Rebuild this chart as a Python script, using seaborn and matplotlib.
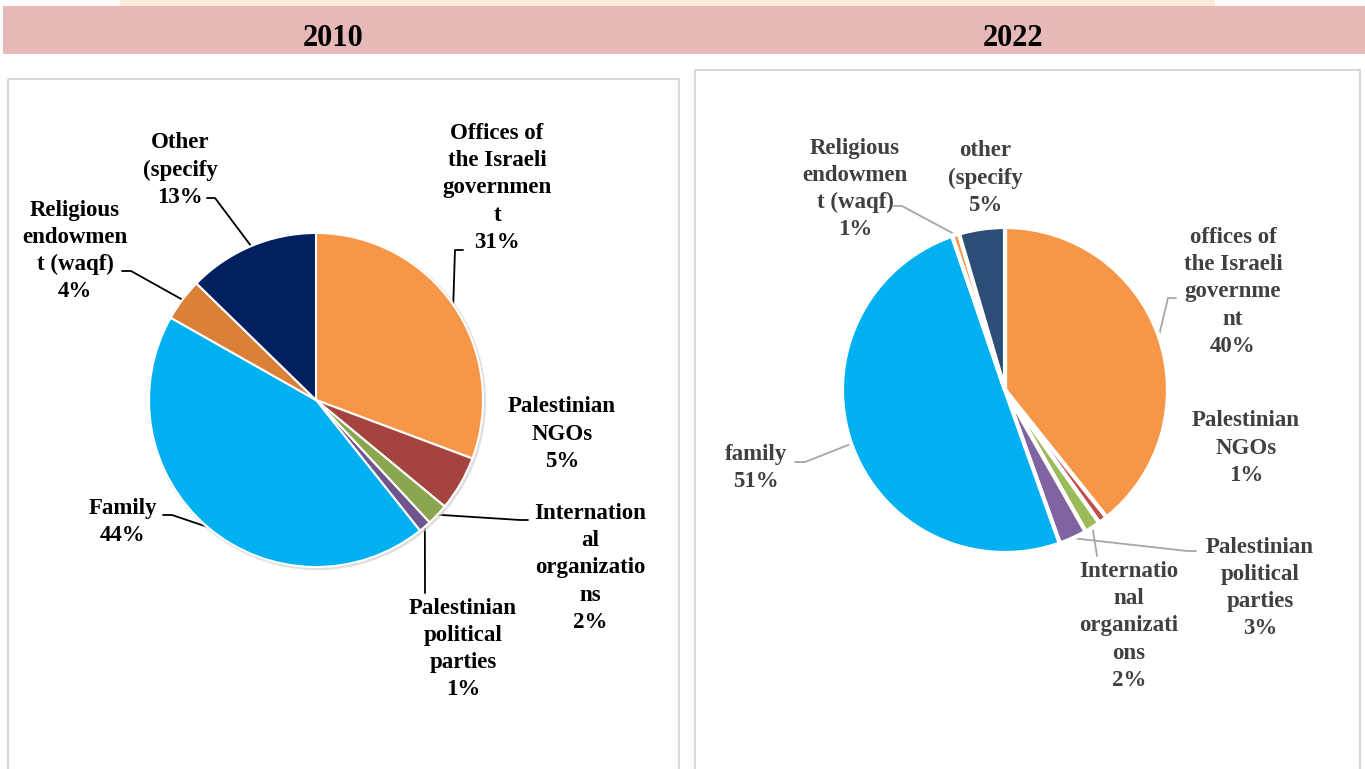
import math

import matplotlib.pyplot as plt
import matplotlib.patches as mpatches
import seaborn as sns

# =====================================
# Data
# =====================================

years = ["2010", "2022"]

labels_2010 = [
    "Offices of\nthe Israeli\ngovernmen\nt",
    "Palestinian\nNGOs",
    "Internation\nal\norganizatio\nns",
    "Palestinian\npolitical\nparties",
    "Family",
    "Religious\nendowmen\nt (waqf)",
    "Other\n(specify",
]
shares_2010 = [30.7, 5.3, 2.1, 1.2, 43.9, 4.1, 12.7]

labels_2022 = [
    "offices of\nthe Israeli\ngovernme\nnt",
    "Palestinian\nNGOs",
    "Internatio\nnal\norganizati\nons",
    "Palestinian\npolitical\nparties",
    "family",
    "Religious\nendowmen\nt (waqf)",
    "other\n(specify",
]
shares_2022 = [39.6, 0.9, 1.6, 2.8, 50.6, 0.7, 4.6]

colors_2010 = ["#F79646", "#A5443F", "#8AA64E", "#6E558C",
               "#00B0F0", "#DA8137", "#002060"]
colors_2022 = ["#F79646", "#C0504D", "#9BBB59", "#8064A2",
               "#00B0F0", "#F79646", "#2C4D75"]

# =====================================
# Layout (pixels)
# =====================================

W, H = 1365, 769

# pie centre and radius
pie_geo = {
    "2010": (316, 400, 167),
    "2022": (1005, 390, 163),
}

# label block centres
label_pos_2010 = [(497, 188), (562, 434), (590, 568), (463, 649),
                  (123, 522), (75, 251), (180, 170)]
label_pos_2022 = [(1233, 292), (1246, 448), (1129, 626), (1260, 588),
                  (756, 468), (855, 189), (985, 178)]

# leader lines: (anchor near text, elbow) or None
leaders_2010 = [((463, 250), (455, 250)), None,
                ((528, 520), (520, 520)), ((425, 593), (425, 593)),
                ((163, 515), (172, 515)), ((122, 271), (131, 271)),
                ((207, 198), (215, 198))]
leaders_2022 = [((1176, 298), (1168, 298)), None,
                ((1097, 556), (1097, 556)), ((1196, 551), (1187, 551)),
                ((795, 462), (805, 462)), ((893, 206), (902, 206)),
                None]

# =====================================
# Figure
# =====================================

sns.set_theme(style="white")
plt.rcParams["font.family"] = ["Liberation Serif", "DejaVu Serif"]

fig = plt.figure(figsize=(W / 100, H / 100), dpi=100)
fig.patch.set_facecolor("white")

bg = fig.add_axes([0, 0, 1, 1])
bg.set_xlim(0, W)
bg.set_ylim(H, 0)
bg.axis("off")

# header strips
bg.add_patch(mpatches.Rectangle((120, 0), 1095, 6, color="#FCE9DA", lw=0))
bg.add_patch(mpatches.Rectangle((3, 6), W - 3, 48, color="#E6B8B7", lw=0))

bg.text(333, 38, years[0], ha="center", va="center",
        fontsize=22, fontweight="bold", color="black")
bg.text(1013, 38, years[1], ha="center", va="center",
        fontsize=22, fontweight="bold", color="black")

# panel borders
bg.add_patch(mpatches.Rectangle((8, 79), 671, 700, fill=False,
                                edgecolor="#D9D9D9", lw=1.5))
bg.add_patch(mpatches.Rectangle((695, 70), 665, 710, fill=False,
                                edgecolor="#D9D9D9", lw=1.5))


def draw_pie(year, shares, colors, labels, positions, leaders,
             text_color, line_color, edge_lw, shadow):
    cx, cy, r = pie_geo[year]
    ax = fig.add_axes([(cx - r) / W, 1 - (cy + r) / H, 2 * r / W, 2 * r / H])

    if shadow:
        sh = mpatches.Circle((0.008, -0.008), 1.01,
                             color="#D0D0D0", alpha=0.7, lw=0)
        sh.set_clip_on(False)
        ax.add_patch(sh)

    wedges, _ = ax.pie(
        shares,
        colors=colors,
        startangle=90,
        counterclock=False,
        radius=1,
        wedgeprops={"edgecolor": "white", "linewidth": edge_lw},
    )
    ax.set_xlim(-1, 1)
    ax.set_ylim(-1, 1)
    ax.set_aspect("equal")
    ax.axis("off")
    for w in wedges:
        w.set_clip_on(False)

    for w, share, lab, pos, lead in zip(wedges, shares, labels,
                                        positions, leaders):
        bg.text(pos[0], pos[1], f"{lab}\n{share:.0f}%",
                ha="center", va="center", multialignment="center",
                fontsize=16.5, fontweight="bold", color=text_color,
                linespacing=1.38)

        if lead is None:
            continue

        # leader line ends on the wedge's mid-angle edge
        mid = math.radians((w.theta1 + w.theta2) / 2)
        ex = cx + r * math.cos(mid)
        ey = cy - r * math.sin(mid)
        (ax0, ay0), (bx0, by0) = lead
        bg.plot([ax0, bx0, ex], [ay0, by0, ey],
                color=line_color, lw=1.3, zorder=5)


draw_pie("2010", shares_2010, colors_2010, labels_2010,
         label_pos_2010, leaders_2010,
         text_color="black", line_color="black",
         edge_lw=1.5, shadow=True)

draw_pie("2022", shares_2022, colors_2022, labels_2022,
         label_pos_2022, leaders_2022,
         text_color="#404040", line_color="#A6A6A6",
         edge_lw=3, shadow=False)

fig.savefig("out.png", dpi=100, facecolor="white")
